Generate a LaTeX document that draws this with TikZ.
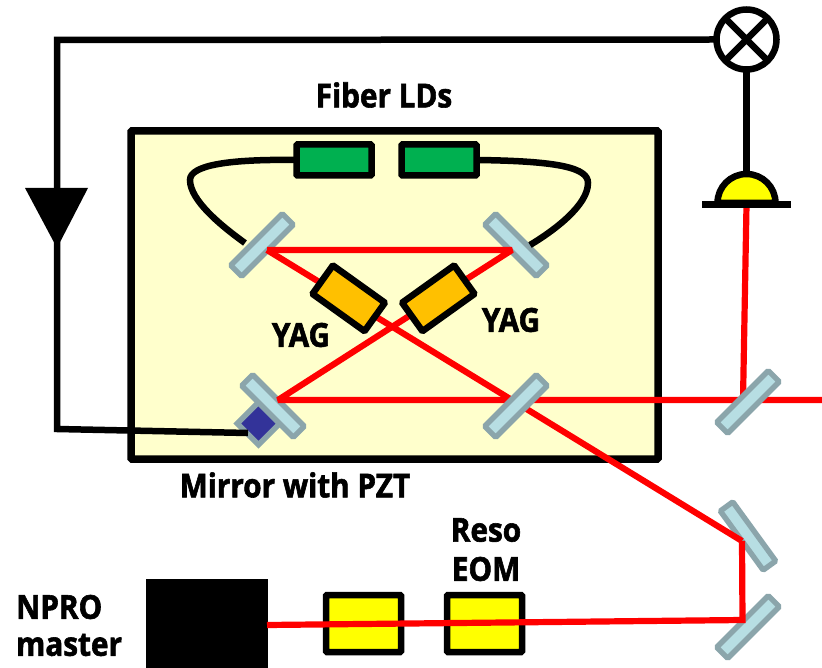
\documentclass[tikz,border=0pt]{standalone}
\usepackage{fontspec}
\setmainfont[FakeStretch=0.9,BoldFeatures={FakeBold=1.8}]{Open Sans}
\definecolor{mirfill}{HTML}{B7DEE3}
\definecolor{mirline}{HTML}{8BA5AB}
\definecolor{boxfill}{HTML}{FFFFCC}
\definecolor{ldgreen}{HTML}{00B050}
\definecolor{yagfill}{HTML}{FFC000}
\definecolor{pztfill}{HTML}{333399}
\definecolor{beamred}{HTML}{FF0000}
\definecolor{ylw}{HTML}{FFFF00}
\tikzset{
  mirror/.style={draw=mirline,fill=mirfill,line width=5.4pt,rounded corners=1.2pt,minimum width=73pt,minimum height=15.5pt,inner sep=0pt,outer sep=0pt,shape=rectangle},
  ld/.style={draw=black,fill=ldgreen,line width=6.5pt,rounded corners=1pt,minimum width=75pt,minimum height=31pt,inner sep=0pt,outer sep=0pt},
  yag/.style={draw=black,fill=yagfill,line width=6.5pt,rounded corners=1pt,minimum width=64pt,minimum height=35pt,inner sep=0pt,outer sep=0pt},
  eom/.style={draw=black,fill=ylw,line width=6.5pt,rounded corners=1pt,minimum width=75pt,minimum height=57pt,inner sep=0pt,outer sep=0pt},
  beam/.style={draw=beamred,line width=6.2pt},
  wire/.style={draw=black,line width=6.5pt},
  lbl/.style={font=\fontsize{33}{35}\selectfont\bfseries,inner sep=0pt,text=black}
}
\begin{document}
\begin{tikzpicture}[x=1pt,y=-1pt]
\useasboundingbox (0,0) rectangle (822,668);
\fill[white] (0,0) rectangle (822,668);
% cavity enclosure
\node[draw=black,fill=boxfill,line width=7.5pt,rounded corners=1pt,minimum width=527pt,minimum height=328pt,inner sep=0pt,outer sep=0pt] (cavity) at (394.5,295) {};
% labels
\node[lbl] (tfiber) at (384,95) {Fiber LDs};
\node[lbl] (tyagl) at (301,335) {YAG};
\node[lbl] (tyagr) at (511,320) {YAG};
\node[lbl] (tmirror) at (295,485) {Mirror with PZT};
\node[lbl] (treso) at (486,530) {Reso};
\node[lbl] (teom) at (486,569) {EOM};
\node[lbl,anchor=west] (tnpro) at (16,607) {NPRO};
\node[lbl,anchor=west] (tmaster) at (16,645) {master};
% laser diodes
\node[ld] (ldl) at (334,160) {};
\node[ld] (ldr) at (439,160) {};
% PZT
\node[draw=mirline,fill=pztfill,line width=5.4pt,minimum size=30pt,inner sep=0pt,outer sep=0pt,rotate=45] (pzt) at (258.5,423.5) {};
% mirrors below the beams
\node[mirror,rotate=45] (m1) at (262,245) {};
\node[mirror,rotate=-45] (m2) at (516,245) {};
\node[mirror,rotate=-45] (m3) at (273,406) {};
\node[mirror,rotate=-54] (m6) at (748,536) {};
\node[mirror,rotate=45] (m7) at (748,627) {};
% source and modulators
\node[fill=black,minimum width=122pt,minimum height=89pt,inner sep=0pt,outer sep=0pt] (npro) at (207,623.5) {};
\node[eom] (eom1) at (363.5,623.5) {};
\node[eom] (eom2) at (484.5,623.5) {};
% beam points
\coordinate (b1) at (267,250);
\coordinate (b2) at (512,250);
\coordinate (b3) at (278,400);
\coordinate (b6) at (742,541);
\coordinate (b7) at (742.5,620);
\coordinate (b0) at (267,625);
\coordinate (bs) at (743,400);
\coordinate (bo) at (822,400);
% beams
\draw[beam,line join=bevel] (b1) -- (b2) -- (b3) -- (bo);
\draw[beam,line join=bevel] (b1) -- (b6);
\draw[beam,line join=miter] (b6) -- (b7) -- (b0);
% detector
\coordinate (detb) at (746.5,205);
\draw[beam] (bs) -- (detb);
% mirrors above the beams
\node[mirror,rotate=45] (m4) at (516,406) {};
\node[mirror,rotate=45] (m5) at (748,402) {};
% gain crystals
\node[yag,rotate=-35.6] (yagl) at (348.7,298.3) {};
\node[yag,rotate=35.6] (yagr) at (438.3,298.3) {};
% fibres
\draw[wire] (ldl.west) .. controls (230,159) and (190,165) .. (190,180) .. controls (190,200) and (220,225) .. (245,243);
\draw[wire] (ldr.east) .. controls (560,161) and (588,168) .. (588,183) .. controls (588,205) and (555,230) .. (530,245);
% mixer and detector
\node[draw=black,line width=6.5pt,circle,minimum size=60pt,inner sep=0pt,outer sep=2.5pt,fill=white] (mix) at (746.5,39.5) {};
\draw[black,line width=6.5pt] (mix.45) -- (mix.225) (mix.135) -- (mix.315);
\filldraw[draw=black,fill=ylw,line width=6.5pt] (717.5,203) arc[start angle=180,end angle=0,radius=29pt] -- cycle;
\draw[black,line width=7pt] (702,205) -- (791,205);
\coordinate (dett) at (746.5,174);
\draw[wire] (mix.south) -- (dett);
% servo
\coordinate (c1) at (57,40);
\coordinate (c2) at (57,429);
\coordinate (pzte) at (248,433);
\draw[wire,line join=miter] (mix.west) -- (c1) -- (c2) -- (pzte);
\fill[black] (25,188) -- (88,188) -- (57,248) -- cycle;
\end{tikzpicture}
\end{document}
